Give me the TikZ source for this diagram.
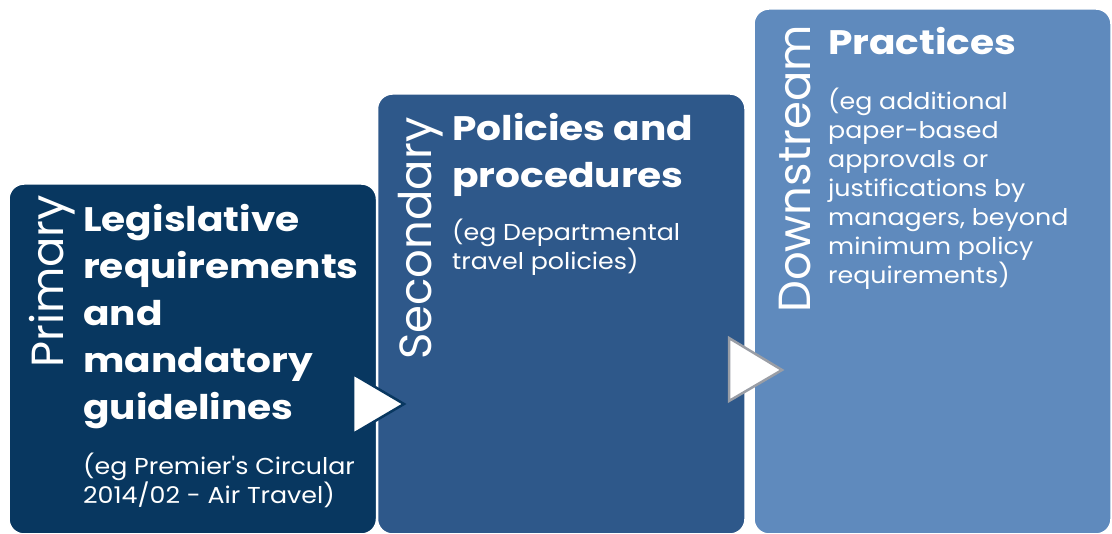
\documentclass[tikz,border=0pt]{standalone}
\usepackage{fontspec}
\setmainfont{Poppins}[Ligatures=TeXOff]
\newfontfamily\headfont{Poppins}[FakeStretch=1.15, Ligatures=TeXOff]
\newfontfamily\detailfont{Poppins}[FakeStretch=1.1, Ligatures=TeXOff]
\definecolor{boxA}{HTML}{083760}
\definecolor{boxB}{HTML}{2E588A}
\definecolor{boxC}{HTML}{5F8ABD}
\definecolor{triG}{HTML}{9A9EA6}
\tikzset{
  panel/.style={draw=white, line width=1.5pt, rounded corners=15pt},
  sidelabel/.style={rotate=90, anchor=base west, inner sep=0pt, text=white, font=\fontsize{45}{45}\selectfont},
  heading/.style={anchor=north west, inner sep=0pt, text=white, align=left, font=\headfont\bfseries\fontsize{34}{47}\selectfont},
  detail/.style={anchor=north west, inner sep=0pt, text=white, align=left, font=\detailfont\fontsize{23}{29}\selectfont},
  tri/.style={fill=white, line width=2.5pt, line join=miter}
}
\begin{document}
\begin{tikzpicture}[x=1pt,y=-1pt]
\useasboundingbox (0,0) rectangle (1112,534);
\fill[white] (0,0) rectangle (1112,534);
% panels
\filldraw[panel, fill=boxA] (9,184) rectangle (376.5,534);
\filldraw[panel, fill=boxB] (377.5,94) rectangle (745,534);
\filldraw[panel, fill=boxC] (754,9) rectangle (1111,534);
% side labels
\node[sidelabel] (primary) at (63,368) {Primary};
\node[sidelabel] (secondary) at (431,360) {Secondary};
\node[sidelabel] (downstream) at (810,313) {Downstream};
% headings
\node[heading] (h1) at (83,204) {Legislative\\requirements\\and\\mandatory\\guidelines};
\node[heading] (h2) at (452,113) {Policies and\\procedures};
\node[heading] (h3) at (828,27) {Practices};
% details
\node[detail] (d1) at (83,453) {(eg Premier's Circular\\2014/02 - Air Travel)};
\node[detail] (d2) at (452,219) {(eg Departmental\\travel policies)};
\node[detail] (d3) at (828,88) {(eg additional\\paper-based\\approvals or\\justifications by\\managers, beyond\\minimum policy\\requirements)};
% arrows
\coordinate (t1a) at (353,374);
\coordinate (t1b) at (353,434);
\coordinate (t1c) at (404,404);
\filldraw[tri, draw=boxA] (t1a) -- (t1c) -- (t1b) -- cycle;
\coordinate (t2a) at (729,338);
\coordinate (t2b) at (729,401);
\coordinate (t2c) at (782,370);
\filldraw[tri, draw=triG] (t2a) -- (t2c) -- (t2b) -- cycle;
\end{tikzpicture}
\end{document}
